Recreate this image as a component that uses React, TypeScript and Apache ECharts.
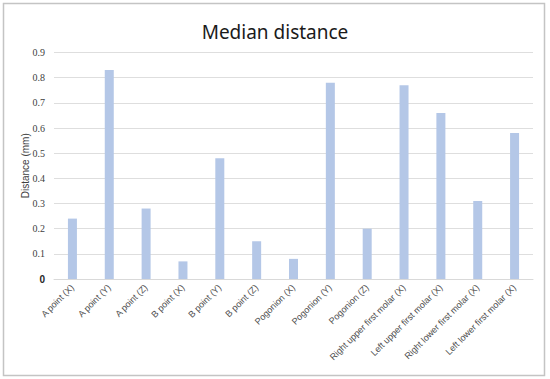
import React, { useEffect, useRef } from "react";
import * as echarts from "echarts";

const categories = [
  "A point (X)",
  "A point (Y)",
  "A point (Z)",
  "B point (X)",
  "B point (Y)",
  "B point (Z)",
  "Pogonion (X)",
  "Pogonion (Y)",
  "Pogonion (Z)",
  "Right upper first molar (X)",
  "Left upper first molar (X)",
  "Right lower first molar (X)",
  "Left lower first molar (X)",
];

const medianDistance = [0.24, 0.83, 0.28, 0.07, 0.48, 0.15, 0.08, 0.78, 0.2, 0.77, 0.66, 0.31, 0.58];

const yTicks = [0, 0.1, 0.2, 0.3, 0.4, 0.5, 0.6, 0.7, 0.8, 0.9];

export default function App() {
  const ref = useRef<HTMLDivElement>(null);
  useEffect(() => {
    if (!ref.current) return;
    const chart = echarts.init(ref.current, null, { renderer: "svg" });
    chart.setOption({
      animation: false,
      backgroundColor: "#ffffff",
      graphic: [
        {
          type: "rect",
          shape: { x: 3.5, y: 3.5, width: 541, height: 372 },
          style: { fill: "none", stroke: "#c4c4c4", lineWidth: 1.5 },
          silent: true,
        },
      ],
      title: {
        text: "Median distance",
        left: "center",
        top: 17,
        textStyle: {
          fontFamily: "Noto Sans",
          fontSize: 19,
          fontWeight: "normal",
          color: "#1a1a1a",
        },
      },
      grid: { left: 54, right: 17, top: 52.5, bottom: 100 },
      xAxis: {
        type: "category",
        data: categories,
        axisLine: { show: true, lineStyle: { color: "#d9d9d9", width: 1 } },
        axisTick: { show: false },
        axisLabel: {
          interval: 0,
          rotate: 45,
          margin: 7,
          fontFamily: "Liberation Sans",
          fontSize: 9,
          color: "#4d4d4d",
        },
      },
      yAxis: {
        type: "value",
        min: 0,
        max: yTicks[yTicks.length - 1],
        interval: 0.1,
        name: "Distance (mm)",
        nameLocation: "middle",
        nameRotate: 90,
        nameGap: 24,
        nameMoveOverlap: false,
        nameTextStyle: {
          fontFamily: "Liberation Sans",
          fontSize: 10,
          color: "#404040",
        },
        axisLine: { show: false },
        axisTick: { show: false },
        splitLine: { lineStyle: { color: "#dedede", width: 1 } },
        axisLabel: {
          margin: 9,
          fontFamily: "Liberation Serif",
          fontSize: 10,
          color: "#404040",
          formatter: (v: number) => (v === 0 ? "{z|0}" : v.toFixed(1)),
          rich: {
            z: { fontFamily: "Liberation Sans", fontSize: 10, fontWeight: "bold", color: "#262626" },
          },
        },
      },
      series: [
        {
          type: "bar",
          data: medianDistance,
          barWidth: 9,
          itemStyle: { color: "#b4c7e7" },
        },
      ],
    });
    return () => chart.dispose();
  }, []);
  return (
    <div
      ref={ref}
      style={{ position: "absolute", left: 0, top: 0, width: 550, height: 379 }}
    />
  );
}
